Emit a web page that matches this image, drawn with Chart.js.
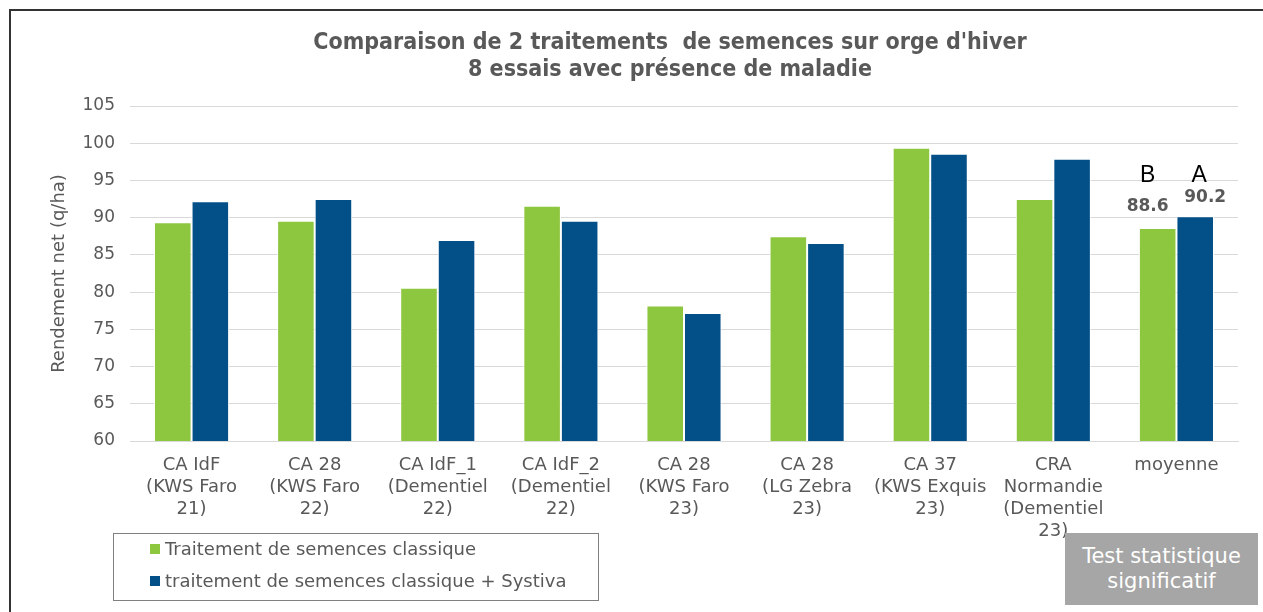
<!DOCTYPE html>
<html><head><meta charset="utf-8">
<script src="https://cdn.jsdelivr.net/npm/chart.js@4"></script>
<style>
html,body{margin:0;padding:0;background:#fff;}
#wrap{position:relative;width:1263px;height:612px;overflow:hidden;font-family:"DejaVu Sans",Verdana,sans-serif;}
#frame{position:absolute;left:9px;top:9px;width:1300px;height:700px;border-left:2px solid #333;border-top:2px solid #333;}
#title{position:absolute;left:0;width:1340px;top:28px;text-align:center;color:#595959;font-weight:bold;font-size:23px;line-height:27px;font-family:"DejaVu Sans Condensed","DejaVu Sans",sans-serif;}
#legend{position:absolute;left:113px;top:533px;width:486px;height:68px;border:1px solid #808080;box-sizing:border-box;color:#595959;font-size:18px;}
#legend .it{position:absolute;left:36px;display:flex;align-items:center;white-space:nowrap;}
#legend .sw{width:10px;height:10px;margin-right:5px;display:inline-block;}
#stat{position:absolute;left:1065px;top:533px;width:193px;height:72px;background:#A6A6A6;color:#fff;font-size:21px;text-align:center;line-height:25px;padding-top:11px;box-sizing:border-box;}
canvas{position:absolute;left:0;top:0;}
</style></head>
<body><div id="wrap">
<canvas id="c" width="1263" height="612"></canvas>
<div id="frame"></div>
<div id="title">Comparaison de 2 traitements&nbsp; de semences sur orge d'hiver<br>8 essais avec présence de maladie</div>
<div id="legend"></div>
<div id="stat">Test statistique<br>significatif</div>
</div>
<script>
const categories = [
  ["CA IdF","(KWS Faro","21)"],
  ["CA 28","(KWS Faro","22)"],
  ["CA IdF_1","(Dementiel","22)"],
  ["CA IdF_2","(Dementiel","22)"],
  ["CA 28","(KWS Faro","23)"],
  ["CA 28","(LG Zebra","23)"],
  ["CA 37","(KWS Exquis","23)"],
  ["CRA","Normandie","(Dementiel","23)"],
  ["moyenne"]
];
const seriesNames = ["Traitement de semences classique","traitement de semences classique + Systiva"];
const classique = [89.4, 89.6, 80.6, 91.6, 78.2, 87.5, 99.4, 92.5, 88.6];
const systiva   = [92.2, 92.5, 87.0, 89.6, 77.2, 86.6, 98.6, 97.9, 90.2];
const letters = ["B","A"];
const yTicks = [60,65,70,75,80,85,90,95,100,105];
const colors = ["#8DC63F","#034F87"];

// HTML legend
const lg = document.getElementById('legend');
seriesNames.forEach((n,i)=>{
  const d=document.createElement('div');d.className='it';d.style.top=(i===0?4:36)+'px';
  d.innerHTML='<span class="sw" style="background:'+colors[i]+'"></span>'+n;
  lg.appendChild(d);
});

const labelPlugin = {
  id:'meanLabels',
  afterDatasetsDraw(chart){
    const ctx=chart.ctx; const last=categories.length-1;
    const valDx=[-10,10], letDx=[-10,4];
    chart.data.datasets.forEach((ds,i)=>{
      const el=chart.getDatasetMeta(i).data[last];
      ctx.save();
      ctx.textAlign='center';
      ctx.fillStyle='#595959';
      ctx.font='bold 17px "DejaVu Sans", sans-serif';
      ctx.textBaseline='middle';
      ctx.fillText(ds.data[last].toFixed(1), el.x+valDx[i], el.y-(i===0?22:19));
      ctx.fillStyle='#000';
      ctx.font='23px "Liberation Sans", sans-serif';
      ctx.textBaseline='alphabetic';
      ctx.fillText(letters[i], el.x+letDx[i], chart.scales.y.getPixelForValue(94.8));
      ctx.restore();
    });
  }
};

new Chart(document.getElementById('c'),{
  type:'bar',
  data:{labels:categories,datasets:[
    {label:seriesNames[0],data:classique,backgroundColor:colors[0],borderColor:'#fff',borderWidth:1,barPercentage:1,categoryPercentage:0.61},
    {label:seriesNames[1],data:systiva,backgroundColor:colors[1],borderColor:'#fff',borderWidth:1,barPercentage:1,categoryPercentage:0.61}
  ]},
  options:{
    responsive:false,animation:false,
    layout:{padding:{left:10,right:25,top:106,bottom:0}},
    plugins:{legend:{display:false},tooltip:{enabled:false},title:{display:false}},
    scales:{
      x:{
        grid:{display:false,drawTicks:false},
        border:{display:true,color:'#d9d9d9',width:1},
        ticks:{color:'#595959',font:{family:'"DejaVu Sans", sans-serif',size:18,lineHeight:1.22},padding:13,maxRotation:0,autoSkip:false},
        afterFit(s){s.height=171;}
      },
      y:{
        min:60,max:105,
        afterBuildTicks(s){s.ticks=yTicks.map(v=>({value:v}));},
        grid:{color:'#d9d9d9',drawTicks:false},
        border:{display:false},
        ticks:{color:'#595959',font:{family:'"DejaVu Sans", sans-serif',size:17},padding:15},
        title:{display:true,text:'Rendement net (q/ha)',color:'#595959',font:{family:'"DejaVu Sans", sans-serif',size:18},padding:{top:39}},
        afterFit(s){s.width=120;}
      }
    }
  },
  plugins:[labelPlugin]
});
</script>
</body></html>
